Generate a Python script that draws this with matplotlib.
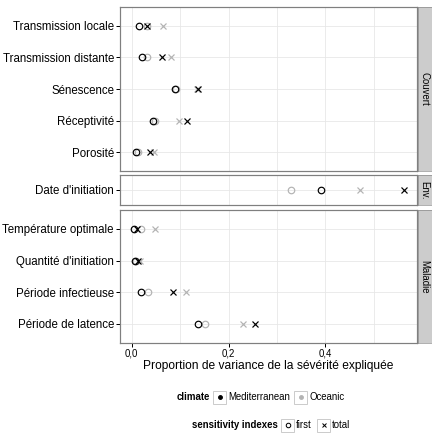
import matplotlib
matplotlib.use("Agg")
import matplotlib.pyplot as plt
from matplotlib.lines import Line2D
from matplotlib.patches import Rectangle

plt.rcParams['font.family'] = ['Liberation Sans', 'DejaVu Sans']

# ---- data ----
facets = ["Couvert", "Env.", "Maladie"]

cat_couvert = ["Transmission locale", "Transmission distante", "Sénescence",
               "Réceptivité", "Porosité"]
cat_env = ["Date d'initiation"]
cat_maladie = ["Température optimale", "Quantité d'initiation",
               "Période infectieuse", "Période de latence"]

# first-order / total indexes, Mediterranean (med) and Oceanic (oce)
first_med_couvert = [0.016, 0.022, 0.090, 0.044, 0.010]
first_oce_couvert = [0.032, 0.032, 0.092, 0.048, 0.013]
total_med_couvert = [0.032, 0.063, 0.137, 0.114, 0.039]
total_oce_couvert = [0.064, 0.082, 0.135, 0.097, 0.046]

first_med_env = [0.391]
first_oce_env = [0.328]
total_med_env = [0.561]
total_oce_env = [0.471]

first_med_maladie = [0.004, 0.007, 0.020, 0.138]
first_oce_maladie = [0.020, 0.010, 0.033, 0.152]
total_med_maladie = [0.012, 0.014, 0.085, 0.254]
total_oce_maladie = [0.049, 0.017, 0.113, 0.230]

xticks = [0.0, 0.2, 0.4]
xticklabels = ["0,0", "0,2", "0,4"]
minor_ticks = [0.1, 0.3, 0.5]

col_med = "black"
col_oce = "#b3b3b3"
border = "#7f7f7f"
grid_col = "#e6e6e6"

W, H = 432, 433
fig = plt.figure(figsize=(W / 72, H / 72), dpi=72)


def rect(x0, y0, x1, y1):
    # pixel box (top-left origin) -> figure fraction
    return [x0 / W, 1 - y1 / H, (x1 - x0) / W, (y1 - y0) / H]


def fpt(x, y):
    return x / W, 1 - y / H


allvals = (first_med_couvert + first_oce_couvert + total_med_couvert + total_oce_couvert
           + first_med_env + first_oce_env + total_med_env + total_oce_env
           + first_med_maladie + first_oce_maladie + total_med_maladie + total_oce_maladie)
lo, hi = min(allvals), max(allvals)
pad = 0.05 * (hi - lo)
xlim = (lo - pad, hi + pad)

panels = [
    (cat_couvert, first_med_couvert, first_oce_couvert, total_med_couvert, total_oce_couvert, 7, 171),
    (cat_env, first_med_env, first_oce_env, total_med_env, total_oce_env, 175, 205),
    (cat_maladie, first_med_maladie, first_oce_maladie, total_med_maladie, total_oce_maladie, 210, 343),
]

x0, x1 = 120, 417
for i, (cats, fm, fo, tm, to, ytop, ybot) in enumerate(panels):
    ax = fig.add_axes(rect(x0, ytop, x1, ybot))
    ypos = list(range(len(cats)))
    # oceanic under, mediterranean on top
    ax.plot(fo, ypos, ls="none", marker="o", ms=6.5, mfc="none", mec=col_oce, mew=1.2, zorder=3)
    ax.plot(to, ypos, ls="none", marker="x", ms=5.5, mec=col_oce, mew=1.2, zorder=3)
    ax.plot(fm, ypos, ls="none", marker="o", ms=6.5, mfc="none", mec=col_med, mew=1.2, zorder=4)
    ax.plot(tm, ypos, ls="none", marker="x", ms=5.5, mec=col_med, mew=1.2, zorder=4)

    ax.set_xlim(xlim)
    ax.set_ylim(len(cats) - 1 + 0.6, -0.6)
    ax.set_yticks(ypos)
    ax.set_yticklabels(cats, fontsize=11.5, color="black")
    ax.tick_params(axis="y", length=4, width=1, color="black", pad=2)
    ax.set_xticks(xticks)
    ax.set_xticks(minor_ticks, minor=True)
    ax.grid(True, which="both", color=grid_col, lw=0.8)
    ax.set_axisbelow(True)
    for s in ax.spines.values():
        s.set_color(border)
        s.set_linewidth(1.2)
    if i == len(panels) - 1:
        ax.set_xticklabels(xticklabels, fontsize=9.6)
        ax.tick_params(axis="x", which="major", length=4, width=1, color="black", pad=2)
        ax.tick_params(axis="x", which="minor", length=0)
        ax.set_xlabel("Proportion de variance de la sévérité expliquée", fontsize=12, labelpad=1)
    else:
        ax.tick_params(axis="x", which="both", length=0, labelbottom=False)

    # facet strip on the right
    sax = fig.add_axes(rect(418, ytop, 433, ybot))
    sax.set_facecolor("#cccccc")
    sax.set_xticks([])
    sax.set_yticks([])
    for s in sax.spines.values():
        s.set_color(border)
        s.set_linewidth(0.6)
    sax.text(0.45, 0.5, facets[i], rotation=270, ha="center", va="center",
             fontsize=9.6, transform=sax.transAxes)

# ---- legends (drawn by hand, ggplot-like) ----
def key_box(xl, yc, size=13):
    fig.add_artist(Rectangle(fpt(xl, yc + size / 2), size / W, size / H,
                             transform=fig.transFigure, facecolor="white",
                             edgecolor="#cccccc", lw=1.0))


def key_mark(xc, yc, **kw):
    fx, fy = fpt(xc, yc)
    fig.add_artist(Line2D([fx], [fy], transform=fig.transFigure, ls="none", **kw))


y1 = 397
fig.text(*fpt(210, y1), "climate", fontsize=9.6, fontweight="bold", ha="right", va="center")
key_box(213, y1)
key_mark(219.5, y1, marker="o", ms=3.8, mfc=col_med, mec=col_med)
fig.text(*fpt(228, y1), "Mediterranean", fontsize=9.6, ha="left", va="center")
key_box(294, y1)
key_mark(300.5, y1, marker="o", ms=3.8, mfc=col_oce, mec=col_oce)
fig.text(*fpt(309, y1), "Oceanic", fontsize=9.6, ha="left", va="center")

y2 = 425
fig.text(*fpt(278, y2), "sensitivity indexes", fontsize=9.6, fontweight="bold", ha="right", va="center")
key_box(281, y2)
key_mark(287.5, y2, marker="o", ms=4.5, mfc="none", mec="black", mew=1.0)
fig.text(*fpt(296, y2), "first", fontsize=9.6, ha="left", va="center")
key_box(317, y2)
key_mark(323.5, y2, marker="x", ms=4.5, mec="black", mew=1.0)
fig.text(*fpt(332, y2), "total", fontsize=9.6, ha="left", va="center")

fig.savefig("out.png", dpi=72)
